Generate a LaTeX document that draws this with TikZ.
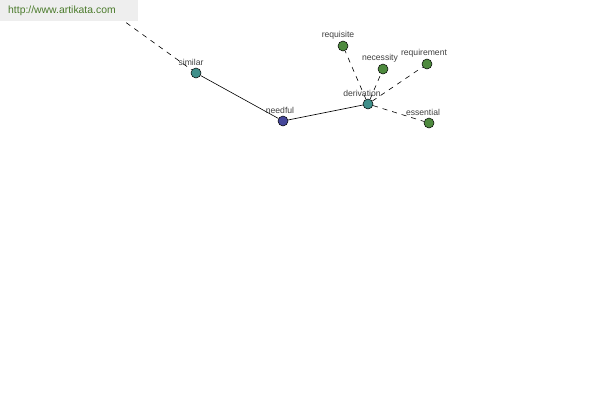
\documentclass[tikz,border=0pt]{standalone}
\usepackage{fontspec}
\setmainfont{Liberation Sans}
\usetikzlibrary{backgrounds}
\begin{document}
\begin{tikzpicture}[x=1pt,y=-1pt,
  dot/.style={circle,draw=black,line width=0.5pt,minimum size=10pt,inner sep=0pt},
  teal/.style={dot,fill=tealc},
  blue/.style={dot,fill=bluec},
  green/.style={dot,fill=greenc},
  lbl/.style={font=\fontsize{8.6}{9}\selectfont,text=labelc,inner sep=0pt},
  solidedge/.style={draw=black,line width=0.6pt},
  dashedge/.style={draw=black,line width=0.6pt,dash pattern=on 5pt off 5pt}]
\definecolor{tealc}{HTML}{3F8F8A}
\definecolor{bluec}{HTML}{45479A}
\definecolor{greenc}{HTML}{4E8A3E}
\definecolor{labelc}{HTML}{404040}
\definecolor{boxc}{HTML}{EEEEEE}
\definecolor{urlc}{HTML}{4A7A2A}
\useasboundingbox (0,0) rectangle (600,400);
\coordinate (off) at (110,11);
\node[teal] (similar) at (196,73) {};
\node[blue] (needful) at (283,121) {};
\node[teal] (derivation) at (368,104) {};
\node[green] (requisite) at (343,46) {};
\node[green] (necessity) at (383,69) {};
\node[green] (requirement) at (427,64) {};
\node[green] (essential) at (429,123) {};
\begin{scope}[on background layer]
\fill[white] (0,0) rectangle (600,400);
\path[dashedge] (off) -- (similar);
\path[solidedge] (similar) -- (needful);
\path[solidedge] (needful) -- (derivation);
\path[dashedge] (derivation) -- (requisite);
\path[dashedge] (derivation) -- (necessity);
\path[dashedge] (derivation) -- (requirement);
\path[dashedge] (derivation) -- (essential);
\end{scope}
\node[lbl] (lsimilar) at (191,62) {similar};
\node[lbl] (lneedful) at (280,110) {needful};
\node[lbl] (lderivation) at (362,93) {derivation};
\node[lbl] (lrequisite) at (338,35) {requisite};
\node[lbl] (lnecessity) at (380,58) {necessity};
\node[lbl] (lrequirement) at (424,53) {requirement};
\node[lbl] (lessential) at (423,112) {essential};
\fill[boxc] (0,0) rectangle (138,21);
\node[font=\fontsize{10.4}{11}\selectfont,text=urlc,anchor=west,inner sep=0pt] (url) at (8,11) {http://www.artikata.com};
\end{tikzpicture}
\end{document}
